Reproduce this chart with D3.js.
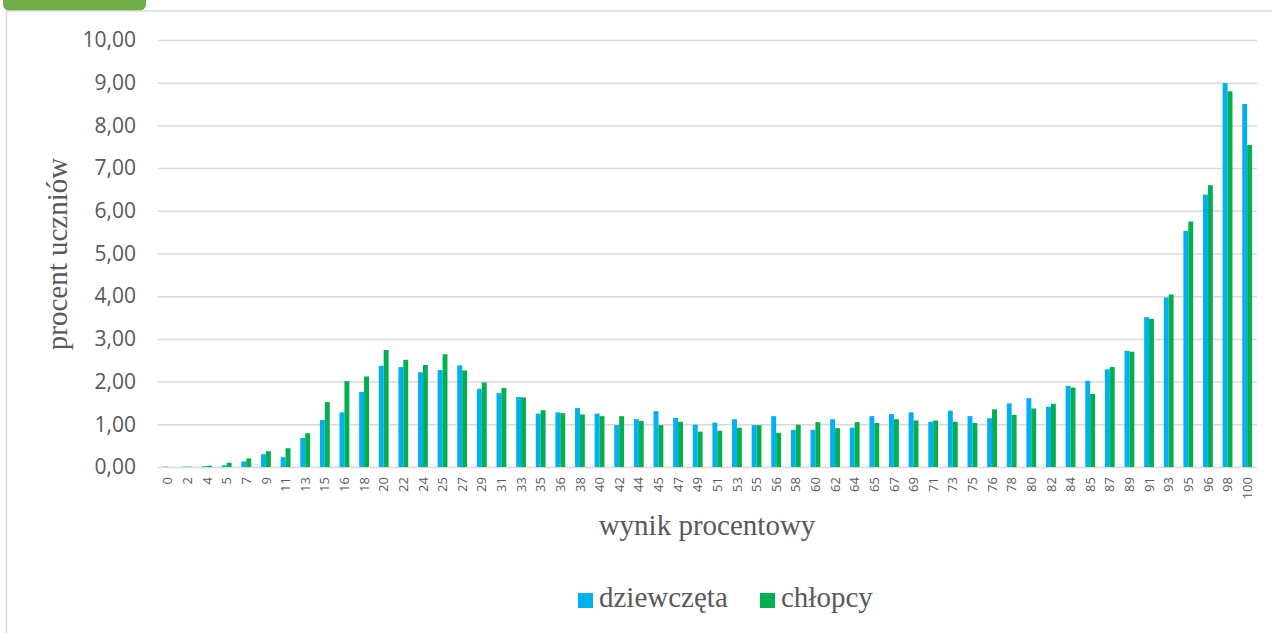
<!DOCTYPE html>
<html>
<head>
<meta charset="utf-8">
<script src="https://cdn.jsdelivr.net/npm/d3@7"></script>
<style>
  html, body { margin: 0; padding: 0; background: #fff; }
  svg { display: block; }
</style>
</head>
<body>
<svg id="chart" width="1272" height="633"></svg>
<script>
const categories = ["0","2","4","5","7","9","11","13","15","16","18","20","22","24","25","27","29","31","33","35","36","38","40","42","44","45","47","49","51","53","55","56","58","60","62","64","65","67","69","71","73","75","76","78","80","82","84","85","87","89","91","93","95","96","98","100"];
const seriesNames = ["dziewczęta", "chłopcy"];
const girls = [0.01,0.01,0.02,0.04,0.13,0.30,0.23,0.68,1.10,1.28,1.76,2.37,2.34,2.22,2.27,2.38,1.83,1.73,1.64,1.25,1.28,1.38,1.25,0.98,1.12,1.31,1.15,0.99,1.04,1.12,0.98,1.19,0.87,0.87,1.12,0.92,1.19,1.24,1.28,1.06,1.32,1.19,1.14,1.49,1.61,1.41,1.90,2.02,2.29,2.72,3.51,3.97,5.53,6.38,8.99,8.50];
const boys = [0.00,0.01,0.03,0.10,0.20,0.37,0.44,0.79,1.52,2.01,2.12,2.74,2.51,2.39,2.64,2.26,1.98,1.85,1.63,1.33,1.26,1.23,1.19,1.19,1.08,0.98,1.06,0.83,0.85,0.92,0.98,0.80,0.99,1.05,0.91,1.05,1.03,1.12,1.09,1.09,1.06,1.03,1.35,1.22,1.37,1.48,1.86,1.71,2.34,2.70,3.47,4.04,5.75,6.60,8.80,7.54];
const yTicks = [0,1,2,3,4,5,6,7,8,9,10];
const xTitle = "wynik procentowy";
const yTitle = "procent uczniów";
const colors = ["#00B0F0", "#00B050"];

(function () {
const svg = d3.select("#chart");

// outer chart frame and header tab
svg.append("rect").attr("x", 3).attr("y", -20).attr("width", 143).attr("height", 31)
  .attr("rx", 7).attr("fill", "#70AD47");
svg.append("rect").attr("x", 6.5).attr("y", 11).attr("width", 1300).attr("height", 700)
  .attr("fill", "none").attr("stroke", "#D9D9D9").attr("stroke-width", 1.5);

const pl = 158, pr = 1257, pt = 40, pb = 467;

const x = d3.scaleBand().domain(categories).range([pl, pr]).padding(0);
const xs = d3.scaleBand().domain(seriesNames).range([0, x.bandwidth()]).paddingInner(0).paddingOuter(1);
const y = d3.scaleLinear().domain([0, 10]).range([pb, pt]);

// y axis with gridlines
const yAxis = d3.axisLeft(y).tickValues(yTicks)
  .tickSize(-(pr - pl)).tickPadding(22)
  .tickFormat(d => d3.format(".2f")(d).replace(".", ","));
const gy = svg.append("g").attr("transform", `translate(${pl},0)`).call(yAxis);
gy.select(".domain").remove();
gy.selectAll(".tick line").attr("stroke", "#D9D9D9").attr("stroke-width", 1.5);
gy.selectAll(".tick text").attr("fill", "#595959")
  .attr("font-family", "'Open Sans', sans-serif").attr("font-size", 21);

// bars
const data = categories.map((c, i) => ({ cat: c, vals: [girls[i], boys[i]] }));
const groups = svg.append("g").selectAll("g").data(data).join("g")
  .attr("transform", d => `translate(${x(d.cat)},0)`);
groups.selectAll("rect").data(d => d.vals.map((v, k) => ({ name: seriesNames[k], v, k })))
  .join("rect")
  .attr("x", d => xs(d.name))
  .attr("width", xs.bandwidth())
  .attr("y", d => y(d.v))
  .attr("height", d => y(0) - y(d.v))
  .attr("fill", d => colors[d.k]);

// x axis labels
const xAxis = d3.axisBottom(x).tickSize(0).tickPadding(0);
const gx = svg.append("g").attr("transform", `translate(0,${pb})`).call(xAxis);
gx.select(".domain").remove();
gx.selectAll(".tick text")
  .attr("fill", "#595959")
  .attr("font-family", "'Open Sans', sans-serif").attr("font-size", 13)
  .attr("text-anchor", "end")
  .attr("transform", "rotate(-90)")
  .attr("x", -10).attr("y", 0).attr("dy", "0.35em");

// axis titles
const serif = "'Liberation Serif', 'Times New Roman', serif";
svg.append("text").attr("x", 707).attr("y", 535).attr("text-anchor", "middle")
  .attr("font-family", serif).attr("font-size", 29).attr("fill", "#595959").text(xTitle);
svg.append("text").attr("transform", "translate(67,254) rotate(-90)").attr("text-anchor", "middle")
  .attr("font-family", serif).attr("font-size", 29).attr("fill", "#595959").text(yTitle);

// legend
const legendX = [578, 760];
const lg = svg.append("g").selectAll("g").data(seriesNames).join("g")
  .attr("transform", (d, i) => `translate(${legendX[i]},593)`);
lg.append("rect").attr("width", 15).attr("height", 15).attr("fill", (d, i) => colors[i]);
lg.append("text").attr("x", 21).attr("y", 14).attr("font-family", serif).attr("font-size", 29)
  .attr("fill", "#595959").text(d => d);
})();
</script>
</body>
</html>
